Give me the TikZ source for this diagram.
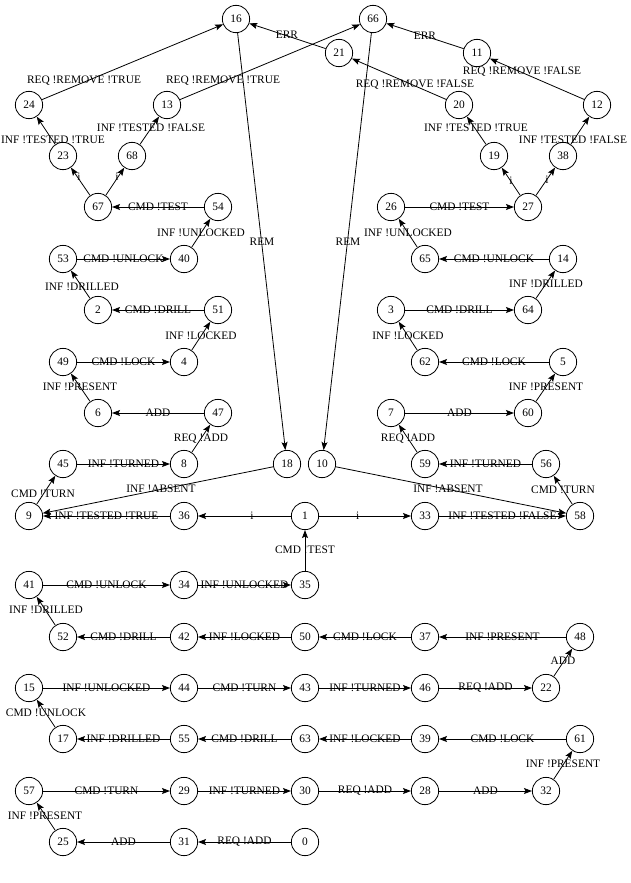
\documentclass[tikz,border=0pt]{standalone}
\usepackage{fontspec}
\setmainfont{Liberation Serif}
\usetikzlibrary{arrows.meta}
\begin{document}
\begin{tikzpicture}[x=1pt,y=-1pt,line width=0.8pt,>={Stealth[length=8pt,width=6pt,inset=1.5pt]},
  every node/.style={font=\fontsize{11.4}{13}\selectfont},
  st/.style={draw,circle,minimum size=27.3pt,inner sep=0pt},
  lbl/.style={inner sep=1pt}]
\useasboundingbox (0,0) rectangle (630,883);
% states
\foreach \n/\x/\y in {16/236/19,66/373/19,21/339/53,11/477/53,
  24/29/105,13/167/105,20/459/105,12/597/105,23/63/156,68/132/156,19/494/156,38/563/156,
  67/98/207,54/218/207,26/391/207,27/528/207,53/63/259,40/184/259,65/425/259,14/563/259,
  2/98/310,51/218/310,3/391/310,64/528/310,49/63/362,4/184/362,62/425/362,5/563/362,
  6/98/413,47/218/413,7/391/413,60/528/413,
  45/63/464,8/184/464,18/287/464,10/322/464,59/425/464,56/546/464,
  9/29/516,36/184/516,1/305/516,33/425/516,58/580/516,41/29/585,34/184/585,35/305/585,
  52/63/637,42/184/637,50/305/637,37/425/637,48/580/637,
  15/29/688,44/184/688,43/305/688,46/425/688,22/546/688,
  17/63/739,55/184/739,63/305/739,39/425/739,61/580/739,
  57/29/791,29/184/791,30/305/791,28/425/791,32/546/791,25/63/842,31/184/842,0/305/842}
  \node[st] (\n) at (\x,\y) {\n};
% straight rows, label sits on the line
\foreach \a/\b/\l in {54/67/CMD !TEST,26/27/CMD !TEST,53/40/CMD !UNLOCK,14/65/CMD !UNLOCK,
  51/2/CMD !DRILL,3/64/CMD !DRILL,49/4/CMD !LOCK,5/62/CMD !LOCK,47/6/ADD,7/60/ADD,
  45/8/INF !TURNED,56/59/INF !TURNED,36/9/INF !TESTED !TRUE,33/58/INF !TESTED !FALSE,
  41/34/CMD !UNLOCK,34/35/INF !UNLOCKED,42/52/CMD !DRILL,50/42/INF !LOCKED,37/50/CMD !LOCK,
  48/37/INF !PRESENT,15/44/INF !UNLOCKED,44/43/CMD !TURN,43/46/INF !TURNED,46/22/REQ !ADD,
  55/17/INF !DRILLED,63/55/CMD !DRILL,39/63/INF !LOCKED,61/39/CMD !LOCK,
  57/29/CMD !TURN,29/30/INF !TURNED,30/28/REQ !ADD,28/32/ADD,31/25/ADD,0/31/REQ !ADD}
  \draw[->] (\a) -- (\b) node[lbl,midway] {\l};
\draw[->] (1) -- (36) node[lbl,pos=0.42] {i};
\draw[->] (1) -- (33) node[lbl,pos=0.42] {i};
% slanted transitions
\foreach \a/\b in {24/16,13/66,21/16,11/66,20/21,12/11,23/24,68/13,19/20,38/12,
  67/23,67/68,27/19,27/38,40/54,65/26,2/53,64/14,4/51,62/3,6/49,60/5,8/47,59/7,
  9/45,58/56,18/9,10/58,35/1,16/18,66/10,52/41,22/48,17/15,32/61,25/57}
  \draw[->] (\a) -- (\b);
% their labels
\foreach \x/\y/\l [count=\i] in {84/81/REQ !REMOVE !TRUE,223/81/REQ !REMOVE !TRUE,
  287/35/ERR,425/36/ERR,415/85/REQ !REMOVE !FALSE,522/72/REQ !REMOVE !FALSE,
  53/140/INF !TESTED !TRUE,151/128/INF !TESTED !FALSE,476/128/INF !TESTED !TRUE,
  573/140/INF !TESTED !FALSE,79/177/i,117/177/i,511/181/i,547/180/i,
  201/233/INF !UNLOCKED,408/233/INF !UNLOCKED,82/287/INF !DRILLED,546/284/INF !DRILLED,
  201/336/INF !LOCKED,408/336/INF !LOCKED,80/387/INF !PRESENT,546/387/INF !PRESENT,
  201/439/REQ !ADD,408/439/REQ !ADD,43/494/CMD !TURN,563/490/CMD !TURN,
  161/489/INF !ABSENT,448/489/INF !ABSENT,305/550/CMD !TEST,262/242/REM,348/242/REM,
  46/610/INF !DRILLED,563/661/ADD,46/713/CMD !UNLOCK,563/764/INF !PRESENT,45/816/INF !PRESENT}
  \node[lbl] (t\i) at (\x,\y) {\l};
\end{tikzpicture}
\end{document}
